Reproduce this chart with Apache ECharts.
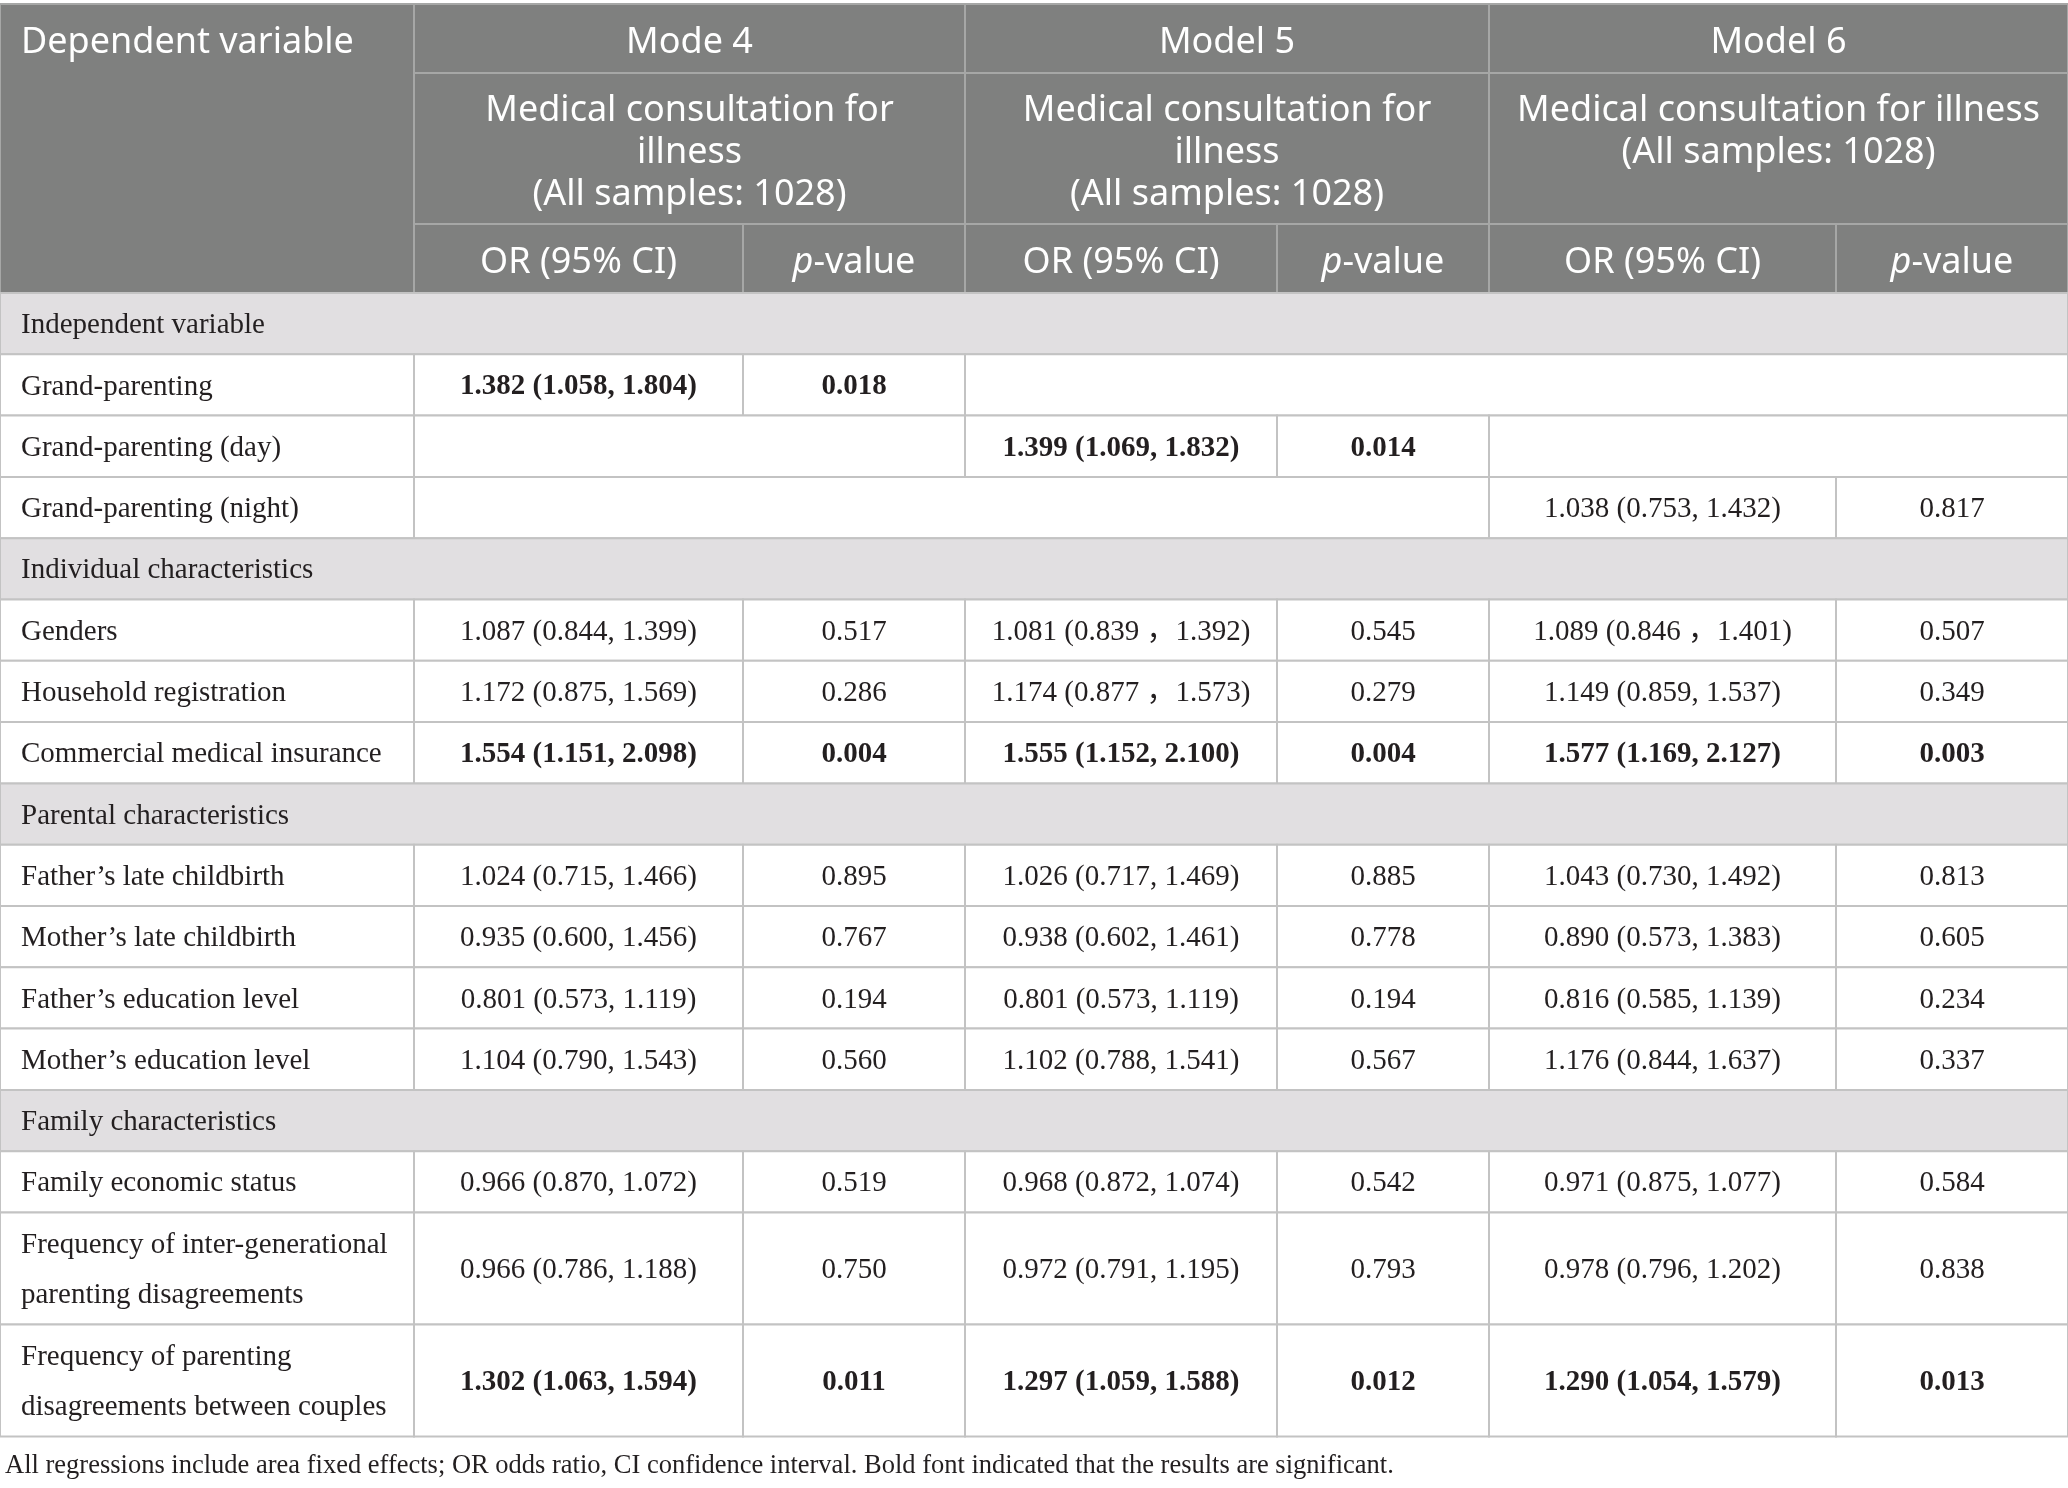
<!DOCTYPE html>
<html>
<head>
<meta charset="utf-8">
<title>Logistic regression table</title>
<script src="https://cdn.jsdelivr.net/npm/echarts@6/dist/echarts.min.js"></script>
<style>
  html, body { margin: 0; padding: 0; background: #fff; }
  #main { width: 2068px; height: 1488px; }
</style>
</head>
<body>
<div id="main"></div>
<script>
// table content
const models = ['Mode 4', 'Model 5', 'Model 6'];
const outcomes = [
  'Medical consultation for\nillness\n(All samples: 1028)',
  'Medical consultation for\nillness\n(All samples: 1028)',
  'Medical consultation for illness\n(All samples: 1028)'
];
const sections = ['Independent variable', 'Individual characteristics', 'Parental characteristics', 'Family characteristics'];
const variables = [
  'Grand-parenting', 'Grand-parenting (day)', 'Grand-parenting (night)',
  'Genders', 'Household registration', 'Commercial medical insurance',
  'Father\u2019s late childbirth', 'Mother\u2019s late childbirth', 'Father\u2019s education level', 'Mother\u2019s education level',
  'Family economic status', 'Frequency of inter-generational\nparenting disagreements', 'Frequency of parenting\ndisagreements between couples'
];
const sectionOf = [0, 0, 0, 1, 1, 1, 2, 2, 2, 2, 3, 3, 3];

const orModel4 = ['1.382 (1.058, 1.804)', null, null, '1.087 (0.844, 1.399)', '1.172 (0.875, 1.569)', '1.554 (1.151, 2.098)',
  '1.024 (0.715, 1.466)', '0.935 (0.600, 1.456)', '0.801 (0.573, 1.119)', '1.104 (0.790, 1.543)',
  '0.966 (0.870, 1.072)', '0.966 (0.786, 1.188)', '1.302 (1.063, 1.594)'];
const pModel4 = [0.018, null, null, 0.517, 0.286, 0.004, 0.895, 0.767, 0.194, 0.560, 0.519, 0.750, 0.011];

const orModel5 = [null, '1.399 (1.069, 1.832)', null, '1.081 (0.839 \uff0c1.392)', '1.174 (0.877 \uff0c1.573)', '1.555 (1.152, 2.100)',
  '1.026 (0.717, 1.469)', '0.938 (0.602, 1.461)', '0.801 (0.573, 1.119)', '1.102 (0.788, 1.541)',
  '0.968 (0.872, 1.074)', '0.972 (0.791, 1.195)', '1.297 (1.059, 1.588)'];
const pModel5 = [null, 0.014, null, 0.545, 0.279, 0.004, 0.885, 0.778, 0.194, 0.567, 0.542, 0.793, 0.012];

const orModel6 = [null, null, '1.038 (0.753, 1.432)', '1.089 (0.846 \uff0c1.401)', '1.149 (0.859, 1.537)', '1.577 (1.169, 2.127)',
  '1.043 (0.730, 1.492)', '0.890 (0.573, 1.383)', '0.816 (0.585, 1.139)', '1.176 (0.844, 1.637)',
  '0.971 (0.875, 1.077)', '0.978 (0.796, 1.202)', '1.290 (1.054, 1.579)'];
const pModel6 = [null, null, 0.817, 0.507, 0.349, 0.003, 0.813, 0.605, 0.234, 0.337, 0.584, 0.838, 0.013];

const footnote = 'All regressions include area fixed effects; OR odds ratio, CI confidence interval. Bold font indicated that the results are significant.';

// layout
const colW = [414, 329, 222, 312, 212, 347, 232];
const headH = [69, 151, 69];
const rowH = 61.3, tallH = 112;
const colX = [0];
colW.forEach(w => colX.push(colX[colX.length - 1] + w));
const totalW = colX[colX.length - 1];

const HEAD_BG = '#7f807f', HEAD_LINE = '#a6a7a6', GROUP_BG = '#e1dfe1', LINE = '#c3c3c3', INK = '#231f20';
const SANS = '"Noto Sans", "Open Sans", sans-serif';
const SERIF = '"Liberation Serif", "Noto Sans CJK SC", serif';
const HEAD_SIZE = 36;
const BODY_SIZE = 29;

const orCols = [orModel4, orModel5, orModel6];
const pCols = [pModel4, pModel5, pModel6];

const cells = [];
function cell(c0, c1, y0, y1, kind, text, opts) {
  cells.push(Object.assign({ x0: colX[c0], x1: colX[c1], y0: y0, y1: y1, kind: kind, text: text }, opts || {}));
}

// header
let y = 0;
const h0 = y, h1 = h0 + headH[0], h2 = h1 + headH[1], h3 = h2 + headH[2];
cell(0, 1, h0, h3, 'head', 'Dependent variable', { align: 'left', textY: h0 + headH[0] / 2 });
models.forEach((m, i) => {
  cell(1 + 2 * i, 3 + 2 * i, h0, h1, 'head', m);
  cell(1 + 2 * i, 3 + 2 * i, h1, h2, 'head', outcomes[i], { valign: 'top' });
  cell(1 + 2 * i, 2 + 2 * i, h2, h3, 'head', 'OR (95% CI)');
  cell(2 + 2 * i, 3 + 2 * i, h2, h3, 'head', '{i|p}-value', { rich: true });
});
y = h3;

// body
let lastSection = -1;
variables.forEach((v, r) => {
  if (sectionOf[r] !== lastSection) {
    lastSection = sectionOf[r];
    cell(0, 7, y, y + rowH, 'group', sections[lastSection], { align: 'left' });
    y += rowH;
  }
  const h = v.indexOf('\n') >= 0 ? tallH : rowH;
  cell(0, 1, y, y + h, 'body', v, { align: 'left' });
  let run = -1;
  for (let m = 0; m <= 3; m++) {
    const empty = m < 3 && orCols[m][r] == null;
    if (empty && run < 0) run = m;
    if (!empty && run >= 0) {
      cell(1 + 2 * run, 1 + 2 * m, y, y + h, 'body', '');
      run = -1;
    }
    if (m < 3 && !empty) {
      const sig = pCols[m][r] < 0.05;
      cell(1 + 2 * m, 2 + 2 * m, y, y + h, 'body', orCols[m][r], { bold: sig });
      cell(2 + 2 * m, 3 + 2 * m, y, y + h, 'body', pCols[m][r].toFixed(3), { bold: sig });
    }
  }
  y += h;
});
const totalH = y;

const chart = echarts.init(document.getElementById('main'));

function renderCell(params, api) {
  const c = cells[params.dataIndex];
  const p0 = api.coord([api.value(0), api.value(2)]);
  const p1 = api.coord([api.value(1), api.value(3)]);
  const x = p0[0], top = p0[1], w = p1[0] - p0[0], h = p1[1] - p0[1];
  const head = c.kind === 'head';
  const fill = head ? HEAD_BG : (c.kind === 'group' ? GROUP_BG : '#fff');
  const children = [{
    type: 'rect',
    shape: { x: x, y: top, width: w, height: h },
    style: { fill: fill, stroke: head ? HEAD_LINE : LINE, lineWidth: 2 }
  }];
  if (c.text) {
    const left = c.align === 'left';
    let ty = top + h / 2 + (head ? 4 : 2), va = 'middle';
    if (c.valign === 'top') { ty = top + 17; va = 'top'; }
    if (c.textY != null) ty = api.coord([0, c.textY])[1] + 4;
    const style = {
      text: c.text,
      x: left ? x + 21 : x + w / 2,
      y: ty,
      align: left ? 'left' : 'center',
      verticalAlign: va,
      fill: head ? '#fff' : INK,
      fontFamily: head ? SANS : SERIF,
      fontSize: head ? HEAD_SIZE : BODY_SIZE,
      fontWeight: c.bold ? 'bold' : 'normal',
      lineHeight: head ? 42 : 50
    };
    if (c.rich) {
      style.rich = {
        i: { fontStyle: 'italic', fontFamily: SANS, fontSize: HEAD_SIZE, fill: '#fff' }
      };
    }
    children.push({ type: 'text', style: style });
  }
  return { type: 'group', children: children };
}

const option = {
  backgroundColor: '#fff',
  animation: false,
  title: {
    text: footnote,
    left: 0,
    top: 1448,
    textStyle: { fontFamily: SERIF, fontSize: 26.5, fontWeight: 'normal', color: INK }
  },
  grid: { left: 0, top: 4, width: totalW, height: totalH },
  xAxis: { type: 'value', min: 0, max: totalW, show: false },
  yAxis: { type: 'value', min: 0, max: totalH, inverse: true, show: false },
  series: [{
    type: 'custom',
    renderItem: renderCell,
    clip: false,
    encode: { x: [0, 1], y: [2, 3] },
    data: cells.map(c => [c.x0, c.x1, c.y0, c.y1])
  }]
};

chart.setOption(option);
</script>
</body>
</html>
